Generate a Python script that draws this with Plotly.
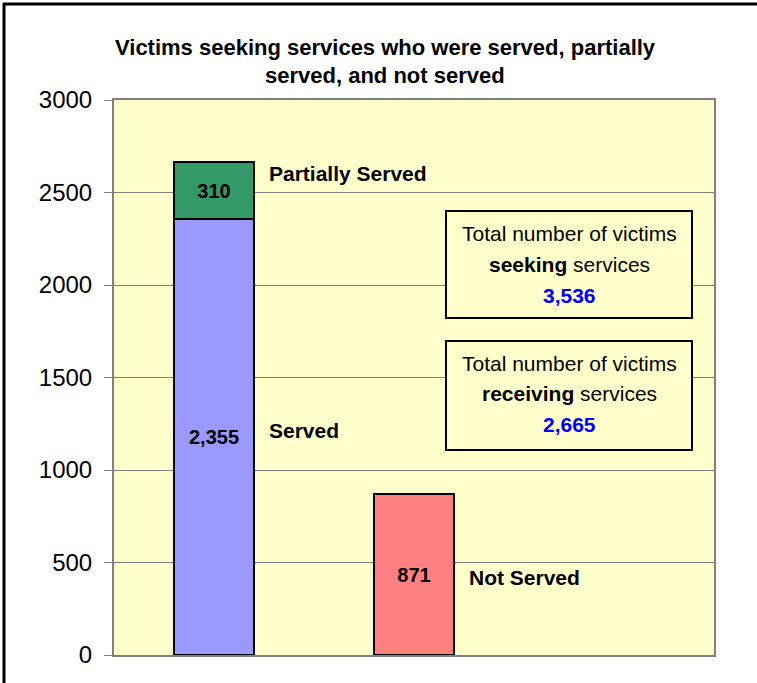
import plotly.graph_objects as go

# ---- data ----
categories = ["Served", "Partially Served", "Not Served"]
served = [2355]
partially_served = [310]
not_served = [871]
total_seeking = 3536
total_receiving = 2665
y_ticks = [0, 500, 1000, 1500, 2000, 2500, 3000]
title_lines = ["Victims seeking services who were served, partially",
               "served, and not served"]

# ---- geometry helpers (pixel -> paper) ----
W, H = 757, 683
L, R, T, B = 114, 43, 100, 28
PW, PH = W - L - R, H - T - B


def px(x):
    return (x - L) / PW


def py(y):
    return (H - B - y) / PH


FONT = "Liberation Sans, Arial, sans-serif"

fig = go.Figure()
bar_line = dict(color="black", width=2)
text_font = dict(family=FONT, size=20, color="black", weight="bold")

fig.add_trace(go.Bar(x=[0], y=served, width=0.4, marker=dict(color="#9999FF", line=bar_line),
                     texttemplate="<b>%{y:,}</b>", textposition="inside", insidetextanchor="middle",
                     textangle=0, insidetextfont=text_font, constraintext="none", name=categories[0]))
fig.add_trace(go.Bar(x=[0], y=partially_served, width=0.4, marker=dict(color="#339966", line=bar_line),
                     texttemplate="<b>%{y:,}</b>", textposition="inside", insidetextanchor="middle",
                     textangle=0, insidetextfont=text_font, constraintext="none", name=categories[1]))
fig.add_trace(go.Bar(x=[1], y=not_served, width=0.4, marker=dict(color="#FF8080", line=bar_line),
                     texttemplate="<b>%{y:,}</b>", textposition="inside", insidetextanchor="middle",
                     textangle=0, insidetextfont=text_font, constraintext="none", name=categories[2]))

annotations = []
# category labels next to the bars
label_font = dict(family=FONT, size=21, color="black", weight="bold")
annotations.append(dict(x=0.265, y=served[0] + partially_served[0] * 0.8, xref="x", yref="y",
                        text=categories[1], showarrow=False, xanchor="left", yanchor="middle", font=label_font))
annotations.append(dict(x=0.265, y=served[0] * 0.515, xref="x", yref="y",
                        text=categories[0], showarrow=False, xanchor="left", yanchor="middle", font=label_font))
annotations.append(dict(x=1.265, y=not_served[0] * 0.48, xref="x", yref="y",
                        text=categories[2], showarrow=False, xanchor="left", yanchor="middle", font=label_font))

# title
for txt, yy in zip(title_lines, [47, 75]):
    annotations.append(dict(x=px(385), y=py(yy), xref="paper", yref="paper", text=f"<b>{txt}</b>",
                            showarrow=False, xanchor="center", yanchor="middle",
                            font=dict(family=FONT, size=22, color="black")))

# info boxes
box_font = dict(family=FONT, size=21, color="black")
num_font = dict(family=FONT, size=21, color="#0000FF")
boxes = [
    ([211, 318], [233, 264, 295], "seeking", total_seeking),
    ([341, 450], [363, 394, 424], "receiving", total_receiving),
]
shapes = []
for (top, bot), ys, word, num in boxes:
    shapes.append(dict(type="rect", xref="paper", yref="paper", x0=px(446), x1=px(692),
                       y0=py(bot), y1=py(top), fillcolor="#FFFFCC", line=dict(color="black", width=2),
                       layer="above"))
    annotations.append(dict(x=px(569), y=py(ys[0]), xref="paper", yref="paper", xanchor="center",
                            yanchor="middle", text="Total number of victims", showarrow=False, font=box_font))
    annotations.append(dict(x=px(569), y=py(ys[1]), xref="paper", yref="paper", xanchor="center",
                            yanchor="middle", text=f"<b>{word}</b> services", showarrow=False, font=box_font))
    annotations.append(dict(x=px(569), y=py(ys[2]), xref="paper", yref="paper", xanchor="center",
                            yanchor="middle", text=f"<b>{num:,}</b>", showarrow=False, font=num_font))

# outer black border (left & top)
shapes.append(dict(type="line", xref="paper", yref="paper", x0=px(4), x1=px(4), y0=py(700), y1=py(3),
                   line=dict(color="black", width=3), layer="above"))
shapes.append(dict(type="line", xref="paper", yref="paper", x0=px(3), x1=px(760), y0=py(4), y1=py(4),
                   line=dict(color="black", width=3), layer="above"))

fig.update_layout(
    width=W, height=H,
    margin=dict(l=L, r=R, t=T, b=B),
    paper_bgcolor="white",
    plot_bgcolor="#FFFFCC",
    barmode="stack",
    bargap=0,
    showlegend=False,
    annotations=annotations,
    shapes=shapes,
    xaxis=dict(range=[-0.5, 2.5], showticklabels=False, ticks="", showgrid=False, zeroline=False,
               showline=True, linecolor="#808080", linewidth=2, mirror=True, fixedrange=True),
    yaxis=dict(range=[0, 3000], tickvals=y_ticks, ticks="outside", ticklen=8, tickcolor="#808080",
               tickwidth=1, showgrid=True, gridcolor="#808080", gridwidth=1, zeroline=False,
               showline=True, linecolor="#808080", linewidth=2, mirror=True,
               tickfont=dict(family=FONT, size=24, color="black"), ticklabelstandoff=7,
               fixedrange=True),
)

fig.write_html("out.html", config={"displayModeBar": False},
               post_script="document.body.style.margin='0';document.body.style.overflow='hidden';")
